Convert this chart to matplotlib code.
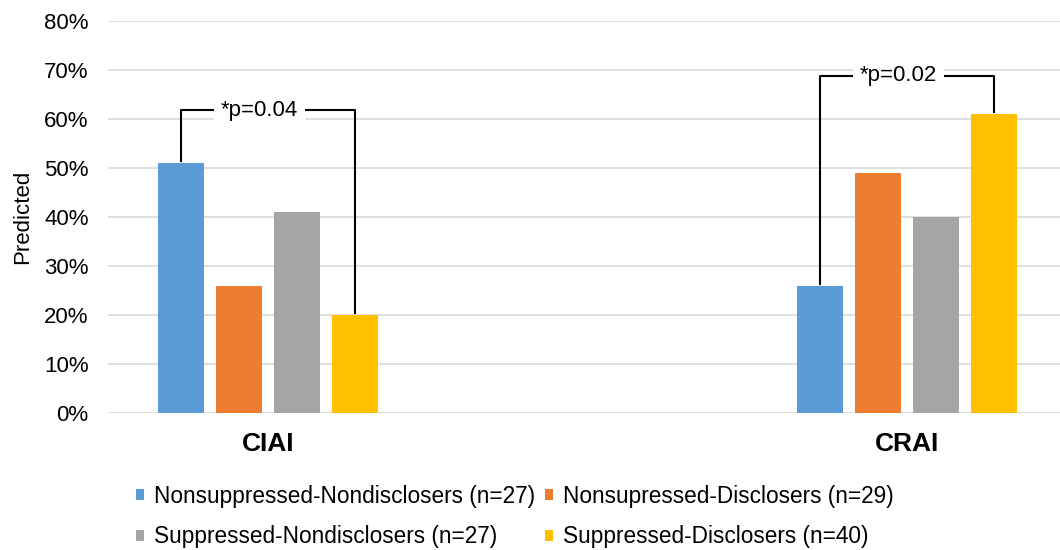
import numpy as np
import matplotlib
matplotlib.use("Agg")
import matplotlib.pyplot as plt

plt.rcParams["font.family"] = ["Liberation Sans", "DejaVu Sans"]

categories = ["CIAI", "CRAI"]
groups = ["Nonsuppressed-Nondisclosers (n=27)", "Nonsupressed-Disclosers (n=29)",
          "Suppressed-Nondisclosers (n=27)", "Suppressed-Disclosers (n=40)"]
colors = ["#5B9BD5", "#ED7D31", "#A5A5A5", "#FFC000"]
values = [[51, 26], [26, 49], [41, 40], [20, 61]]   # percent, per group: CIAI, CRAI
brackets = [("*p=0.04", 0, 61.8), ("*p=0.02", 1, 68.8)]  # label, category, height

fig = plt.figure(figsize=(10.6, 5.5), dpi=100)
ax = fig.add_axes([108 / 1060, 1 - 413 / 550, 1 - 108 / 1060, (413 - 21) / 550])

x = np.arange(len(categories))
w = 0.072
step = 0.0908
offs = (np.arange(len(groups)) - 1.5) * step
bars = []
for i, g in enumerate(groups):
    b = ax.bar(x + offs[i], values[i], width=w, color=colors[i], label=g, zorder=3)
    bars.append(b)

# significance brackets between first and last group
for lab, c, h in brackets:
    x0, x1 = c + offs[0], c + offs[-1]
    y0, y1 = values[0][c], values[-1][c]
    ax.plot([x0, x0, x1, x1], [y0 + 0.4, h, h, y1 + 0.4], color="black", lw=1.5, zorder=4)
    ax.text((x0 + x1) / 2 - 0.013, h, lab, ha="center", va="center", fontsize=16,
            bbox=dict(facecolor="white", edgecolor="none", pad=5), zorder=5)

ax.set_xlim(-0.25, 1.24)
ax.set_ylim(0, 80)
ax.set_yticks(np.arange(0, 81, 10))
ax.set_yticklabels([f"{v}%" for v in range(0, 81, 10)], fontsize=16)
ax.set_xticks(x)
ax.set_xticklabels(categories, fontsize=19, fontweight="bold")
ax.tick_params(axis="both", length=0)
ax.tick_params(axis="y", pad=14)
ax.tick_params(axis="x", pad=14)
ax.set_ylabel("Predicted", fontsize=16, labelpad=8)
ax.yaxis.grid(True, color="#d9d9d9", lw=1.2, zorder=0)
for s in ax.spines.values():
    s.set_visible(False)
ax.set_axisbelow(True)

order = [0, 2, 1, 3]
fig.legend([bars[i] for i in order], [groups[i] for i in order], ncol=2,
           loc="upper left", bbox_to_anchor=(136 / 1060, 1 - 485 / 550),
           frameon=False, fontsize=16.3, handlelength=0.36, handleheight=0.36,
           handletextpad=0.45, columnspacing=0.4, labelspacing=0.77,
           borderpad=0, borderaxespad=0)

fig.savefig("out.png", dpi=100)
